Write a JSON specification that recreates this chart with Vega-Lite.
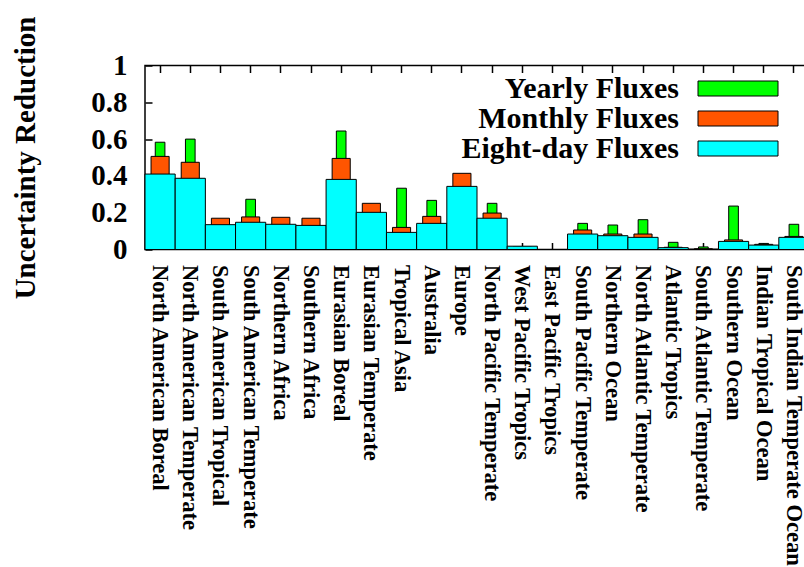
{
  "$schema": "https://vega.github.io/schema/vega-lite/v6.json",
  "autosize": "none",
  "width": 664,
  "height": 184,
  "padding": {"left": 145, "top": 65.5, "right": 0, "bottom": 317.5},
  "background": "white",
  "config": {
    "font": "Liberation Serif",
    "view": {"stroke": "black", "strokeWidth": 1.5},
    "axis": {"labelFont": "Liberation Serif", "titleFont": "Liberation Serif", "labelFontWeight": "bold", "titleFontWeight": "bold", "labelColor": "black", "titleColor": "black", "tickColor": "black", "domain": false, "grid": false}
  },
  "data": {"values": [
    {"region": "North American Boreal", "series": "Yearly Fluxes", "value": 0.583},
    {"region": "North American Boreal", "series": "Monthly Fluxes", "value": 0.506},
    {"region": "North American Boreal", "series": "Eight-day Fluxes", "value": 0.41},
    {"region": "North American Temperate", "series": "Yearly Fluxes", "value": 0.6},
    {"region": "North American Temperate", "series": "Monthly Fluxes", "value": 0.474},
    {"region": "North American Temperate", "series": "Eight-day Fluxes", "value": 0.387},
    {"region": "South American Tropical", "series": "Yearly Fluxes", "value": 0.16},
    {"region": "South American Tropical", "series": "Monthly Fluxes", "value": 0.17},
    {"region": "South American Tropical", "series": "Eight-day Fluxes", "value": 0.135},
    {"region": "South American Temperate", "series": "Yearly Fluxes", "value": 0.273},
    {"region": "South American Temperate", "series": "Monthly Fluxes", "value": 0.177},
    {"region": "South American Temperate", "series": "Eight-day Fluxes", "value": 0.148},
    {"region": "Northern Africa", "series": "Yearly Fluxes", "value": 0.16},
    {"region": "Northern Africa", "series": "Monthly Fluxes", "value": 0.175},
    {"region": "Northern Africa", "series": "Eight-day Fluxes", "value": 0.137},
    {"region": "Southern Africa", "series": "Yearly Fluxes", "value": 0.16},
    {"region": "Southern Africa", "series": "Monthly Fluxes", "value": 0.17},
    {"region": "Southern Africa", "series": "Eight-day Fluxes", "value": 0.131},
    {"region": "Eurasian Boreal", "series": "Yearly Fluxes", "value": 0.644},
    {"region": "Eurasian Boreal", "series": "Monthly Fluxes", "value": 0.495},
    {"region": "Eurasian Boreal", "series": "Eight-day Fluxes", "value": 0.381},
    {"region": "Eurasian Temperate", "series": "Yearly Fluxes", "value": 0.24},
    {"region": "Eurasian Temperate", "series": "Monthly Fluxes", "value": 0.251},
    {"region": "Eurasian Temperate", "series": "Eight-day Fluxes", "value": 0.202},
    {"region": "Tropical Asia", "series": "Yearly Fluxes", "value": 0.333},
    {"region": "Tropical Asia", "series": "Monthly Fluxes", "value": 0.12},
    {"region": "Tropical Asia", "series": "Eight-day Fluxes", "value": 0.093},
    {"region": "Australia", "series": "Yearly Fluxes", "value": 0.267},
    {"region": "Australia", "series": "Monthly Fluxes", "value": 0.18},
    {"region": "Australia", "series": "Eight-day Fluxes", "value": 0.142},
    {"region": "Europe", "series": "Yearly Fluxes", "value": 0.4},
    {"region": "Europe", "series": "Monthly Fluxes", "value": 0.414},
    {"region": "Europe", "series": "Eight-day Fluxes", "value": 0.343},
    {"region": "North Pacific Temperate", "series": "Yearly Fluxes", "value": 0.251},
    {"region": "North Pacific Temperate", "series": "Monthly Fluxes", "value": 0.198},
    {"region": "North Pacific Temperate", "series": "Eight-day Fluxes", "value": 0.17},
    {"region": "West Pacific Tropics", "series": "Yearly Fluxes", "value": 0.012},
    {"region": "West Pacific Tropics", "series": "Monthly Fluxes", "value": 0.015},
    {"region": "West Pacific Tropics", "series": "Eight-day Fluxes", "value": 0.018},
    {"region": "East Pacific Tropics", "series": "Yearly Fluxes", "value": 0},
    {"region": "East Pacific Tropics", "series": "Monthly Fluxes", "value": 0},
    {"region": "East Pacific Tropics", "series": "Eight-day Fluxes", "value": 0},
    {"region": "South Pacific Temperate", "series": "Yearly Fluxes", "value": 0.142},
    {"region": "South Pacific Temperate", "series": "Monthly Fluxes", "value": 0.106},
    {"region": "South Pacific Temperate", "series": "Eight-day Fluxes", "value": 0.084},
    {"region": "Northern Ocean", "series": "Yearly Fluxes", "value": 0.133},
    {"region": "Northern Ocean", "series": "Monthly Fluxes", "value": 0.084},
    {"region": "Northern Ocean", "series": "Eight-day Fluxes", "value": 0.075},
    {"region": "North Atlantic Temperate", "series": "Yearly Fluxes", "value": 0.162},
    {"region": "North Atlantic Temperate", "series": "Monthly Fluxes", "value": 0.084},
    {"region": "North Atlantic Temperate", "series": "Eight-day Fluxes", "value": 0.066},
    {"region": "Atlantic Tropics", "series": "Yearly Fluxes", "value": 0.039},
    {"region": "Atlantic Tropics", "series": "Monthly Fluxes", "value": 0.012},
    {"region": "Atlantic Tropics", "series": "Eight-day Fluxes", "value": 0.01},
    {"region": "South Atlantic Temperate", "series": "Yearly Fluxes", "value": 0.014},
    {"region": "South Atlantic Temperate", "series": "Monthly Fluxes", "value": 0.004},
    {"region": "South Atlantic Temperate", "series": "Eight-day Fluxes", "value": 0.002},
    {"region": "Southern Ocean", "series": "Yearly Fluxes", "value": 0.236},
    {"region": "Southern Ocean", "series": "Monthly Fluxes", "value": 0.052},
    {"region": "Southern Ocean", "series": "Eight-day Fluxes", "value": 0.044},
    {"region": "Indian Tropical Ocean", "series": "Yearly Fluxes", "value": 0.033},
    {"region": "Indian Tropical Ocean", "series": "Monthly Fluxes", "value": 0.028},
    {"region": "Indian Tropical Ocean", "series": "Eight-day Fluxes", "value": 0.024},
    {"region": "South Indian Temperate Ocean", "series": "Yearly Fluxes", "value": 0.137},
    {"region": "South Indian Temperate Ocean", "series": "Monthly Fluxes", "value": 0.071},
    {"region": "South Indian Temperate Ocean", "series": "Eight-day Fluxes", "value": 0.066}
  ]},
  "encoding": {
    "x": {"field": "region", "type": "nominal", "sort": null, "scale": {"paddingInner": 0, "paddingOuter": 0}, "axis": null},
    "y": {"field": "value", "type": "quantitative", "scale": {"domain": [0, 1], "nice": false}, "title": "Uncertainty Reduction",
      "axis": {"values": [0, 0.2, 0.4, 0.6, 0.8, 1], "format": "~g", "tickSize": -7, "tickWidth": 1.5, "labelFontSize": 29, "labelPadding": 25, "titleFontSize": 29, "titlePadding": 50}},
    "color": {"field": "series", "type": "nominal",
      "scale": {"domain": ["Yearly Fluxes", "Monthly Fluxes", "Eight-day Fluxes"], "range": ["#00ff00", "#ff5500", "#00ffff"]},
      "legend": {"title": null, "orient": "none", "legendX": 578, "legendY": 8, "symbolType": "M-4,-0.75H4V0.75H-4Z", "symbolSize": 400, "symbolStrokeColor": "black", "symbolStrokeWidth": 1, "symbolOpacity": 1, "labelFont": "Liberation Serif", "labelFontWeight": "bold", "labelFontSize": 30, "labelColor": "black", "labelAlign": "right", "labelOffset": -74, "labelLimit": 0, "rowPadding": 0, "padding": 0}}
  },
  "layer": [
    {
      "transform": [{"filter": "datum.series === 'Yearly Fluxes'"}],
      "mark": {"type": "bar", "width": {"band": 0.32}, "stroke": "black", "strokeWidth": 1, "opacity": 1},
      "encoding": {"x": {"field": "region", "type": "nominal", "sort": null, "title": null,
        "axis": {"orient": "top", "labels": false, "tickSize": -7, "tickWidth": 1.5, "title": null}}}
    },
    {
      "transform": [{"filter": "datum.series === 'Monthly Fluxes'"}],
      "mark": {"type": "bar", "width": {"band": 0.6}, "stroke": "black", "strokeWidth": 1, "opacity": 1},
      "encoding": {"x": {"field": "region", "type": "nominal", "sort": null, "title": null,
        "axis": {"orient": "bottom", "labelAngle": 90, "labelFontSize": 22.5, "labelPadding": 22, "labelLimit": 0, "tickSize": -7, "tickWidth": 1.5, "title": null}}}
    },
    {
      "transform": [{"filter": "datum.series === 'Eight-day Fluxes'"}],
      "mark": {"type": "bar", "width": {"band": 1}, "stroke": "black", "strokeWidth": 1, "opacity": 1}
    }
  ],
  "resolve": {"axis": {"x": "independent"}}
}
